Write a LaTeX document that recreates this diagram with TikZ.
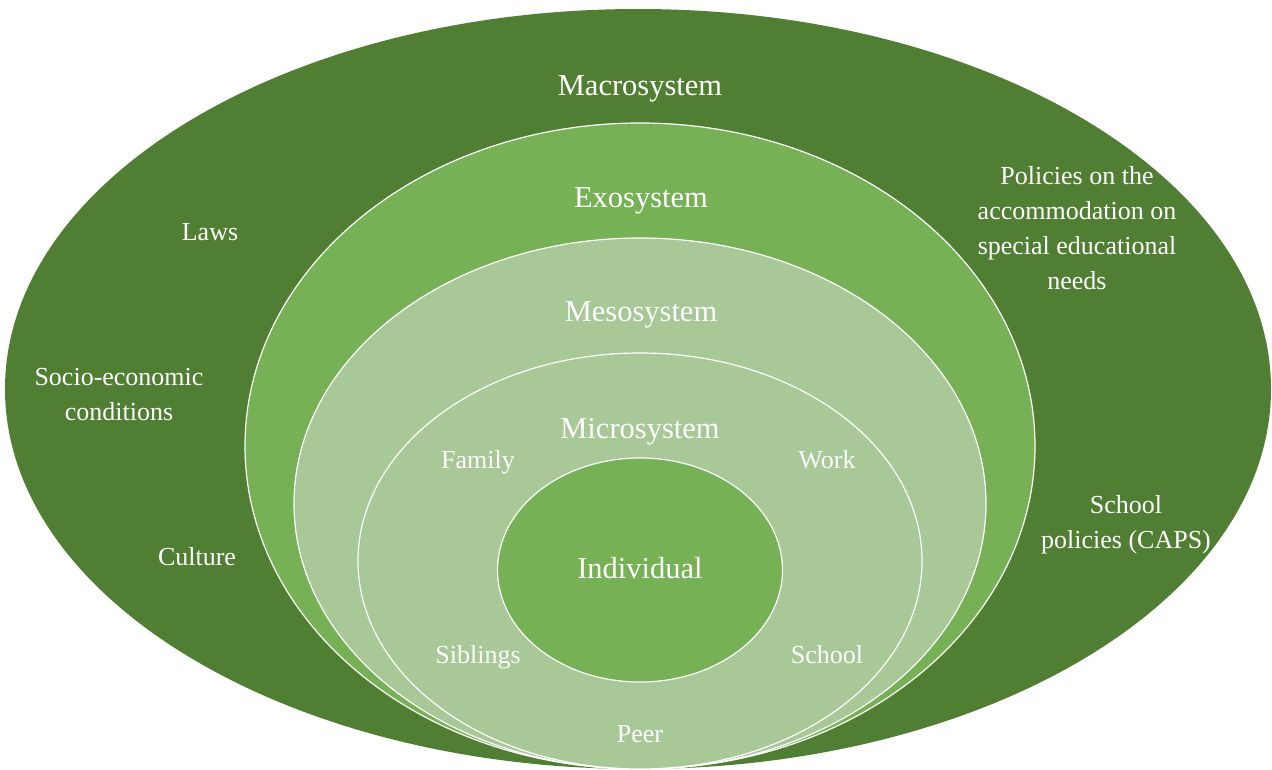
\documentclass[tikz,border=0pt]{standalone}
\usepackage{fontspec}
\setmainfont{Liberation Serif}

\definecolor{macrogreen}{HTML}{507E32}
\definecolor{exogreen}{HTML}{76B155}
\definecolor{mesogreen}{HTML}{A8C897}

\tikzstyle{ring} = [draw=white, line width=1.2pt]
\tikzstyle{heading} = [text=white, inner sep=0pt, anchor=base, font=\fontsize{30.5}{36}\selectfont]
\tikzstyle{factor} = [text=white, inner sep=0pt, anchor=base, align=center, font=\fontsize{26}{35}\selectfont]

\begin{document}
\begin{tikzpicture}[x=1pt, y=-1pt]
       \useasboundingbox (0,0) rectangle (1272,769);
       \fill[macrogreen] (638,389) ellipse (633pt and 380pt);
       \foreach \cy/\rx/\ry/\col in {446/395/323/exogreen, 503.5/346/265.5/mesogreen, 561/282/208/mesogreen, 570/142.5/112/exogreen} {
           \path[ring, fill=\col] (640,\cy) ellipse ({\rx pt} and {\ry pt});
       }
       \foreach \pos/\name/\txt in {{(640,95)/macro/Macrosystem}, {(641,207)/exo/Exosystem}, {(641,321)/meso/Mesosystem}, {(640,438)/micro/Microsystem}, {(640,578)/indiv/Individual}} {
           \node[heading] (\name) at \pos {\txt};
       }
       \foreach \pos/\name/\txt in {{(478,468)/family/Family}, {(827,468)/work/Work}, {(478,663)/siblings/Siblings}, {(827,663)/school/School}, {(640,742)/peer/Peer}, {(210,240)/laws/Laws}, {(197,565)/culture/Culture}} {
           \node[factor] (\name) at \pos {\txt};
       }
       % multi-line labels sit on the baseline of their last line
       \node[factor] (socio) at (119,420) {Socio-economic\\conditions};
       \node[factor] (sen) at (1077,289) {Policies on the\\accommodation on\\special educational\\needs};
       \node[factor] (caps) at (1126,548) {School\\policies (CAPS)};
\end{tikzpicture}
\end{document}
